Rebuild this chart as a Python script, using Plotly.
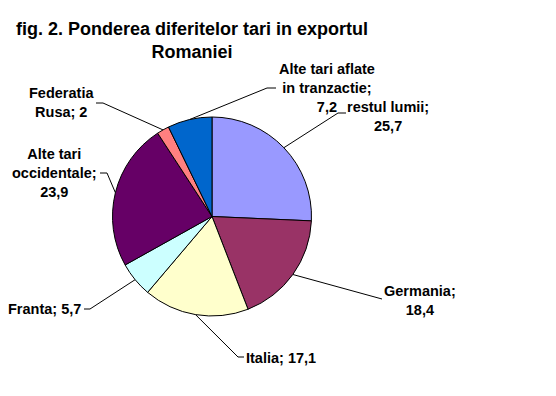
import math
import plotly.graph_objects as go

labels = ["restul lumii", "Germania", "Italia", "Franta", "Alte tari occidentale",
          "Federatia Rusa", "Alte tari aflate in tranzactie"]
values = [25.7, 18.4, 17.1, 5.7, 23.9, 2, 7.2]
value_text = ["25,7", "18,4", "17,1", "5,7", "23,9", "2", "7,2"]
colors = ["#9999FF", "#993366", "#FFFFCC", "#CCFFFF", "#660066", "#FF8080", "#0066CC"]

# label layout (pixel positions of text centre, lines, leader-line elbow)
label_text = [
    "restul lumii;<br>25,7",
    "Germania;<br>18,4",
    "Italia; 17,1",
    "Franta; 5,7",
    "Alte tari<br>occidentale;<br>23,9",
    "Federatia<br>Rusa; 2",
    "Alte tari aflate<br>in tranzactie;<br>7,2",
]
label_pos = [(388, 116), (420, 300), (281, 358), (44, 309), (54, 173), (61, 102), (327, 88)]
elbow = [((338, 113), (346, 113)), ((382, 299), (382, 299)), ((238, 357), (244, 357)),
         ((90, 309), (84, 309)), ((107, 173), (100, 173)), ((103, 103), (96, 103)),
         ((267, 88), (276, 88))]

W, H = 556, 396
cx, cy, r = 212, 216.5, 99.5

fig = go.Figure()
fig.add_trace(go.Pie(
    labels=labels, values=values, sort=False, direction="clockwise", rotation=0,
    marker=dict(colors=colors, line=dict(color="black", width=1)),
    textinfo="none", hoverinfo="label+value", showlegend=False,
    domain=dict(x=[(cx - r) / W, (cx + r) / W], y=[1 - (cy + r) / H, 1 - (cy - r) / H]),
))

total = sum(values)
cum = 0
shapes = []
annotations = []
font = dict(family="Liberation Sans, Arial", size=14.5, color="black")
for i, v in enumerate(values):
    mid = (cum + v / 2) / total
    cum += v
    ang = 2 * math.pi * mid
    ex = cx + r * math.sin(ang)
    ey = cy - r * math.cos(ang)
    (x1, y1), (x2, y2) = elbow[i]
    shapes.append(dict(type="path", xref="x", yref="y",
                       path=f"M {ex:.1f},{ey:.1f} L {x1},{y1} L {x2},{y2}",
                       line=dict(color="black", width=1)))
    lx, ly = label_pos[i]
    annotations.append(dict(x=lx, y=ly, xref="x", yref="y", text="<b>" + label_text[i] + "</b>",
                            showarrow=False, font=font, align="center",
                            xanchor="center", yanchor="middle"))

annotations.append(dict(x=192, y=40, xref="x", yref="y",
                        text="<b>fig. 2. Ponderea diferitelor tari in exportul<br>Romaniei</b>",
                        showarrow=False, align="center", xanchor="center", yanchor="middle",
                        font=dict(family="Liberation Sans, Arial", size=18, color="black")))

fig.update_layout(
    width=W, height=H, margin=dict(l=0, r=0, t=0, b=0),
    paper_bgcolor="white", plot_bgcolor="rgba(0,0,0,0)",
    xaxis=dict(range=[0, W], visible=False, fixedrange=True),
    yaxis=dict(range=[H, 0], visible=False, fixedrange=True),
    shapes=shapes, annotations=annotations,
)
fig.write_html("out.html")
